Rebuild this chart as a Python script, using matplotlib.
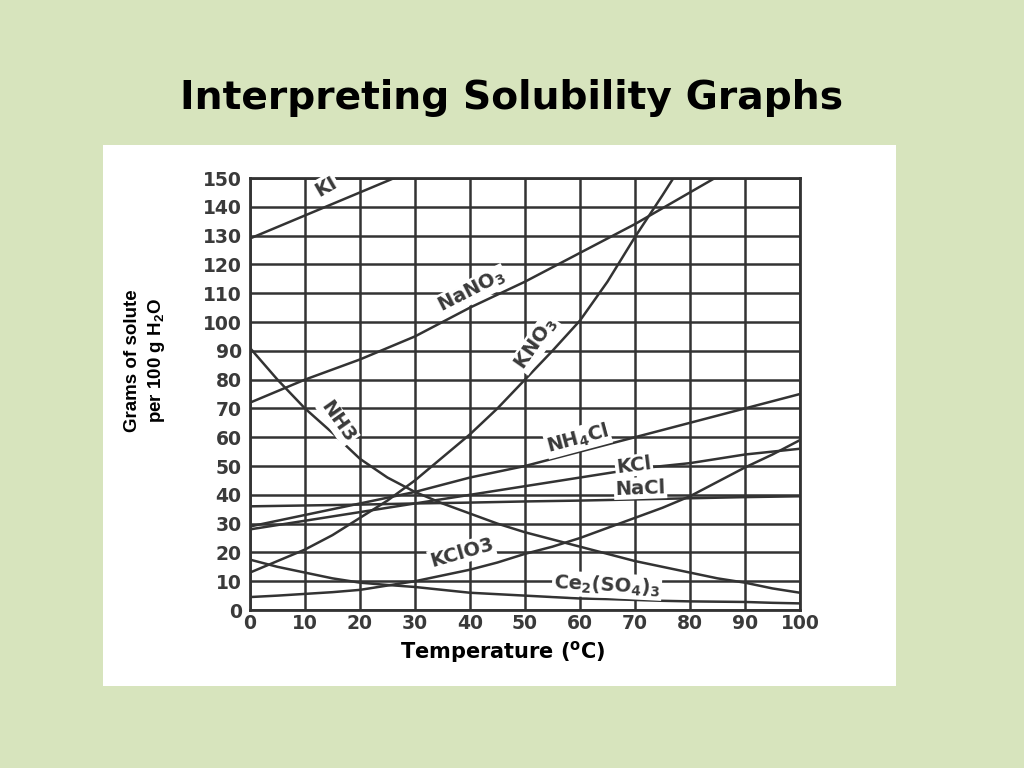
import matplotlib.pyplot as plt
from matplotlib.patches import Rectangle

plt.rcParams['mathtext.default'] = 'regular'

# temperatures (deg C) at which values were read
t10 = [0, 10, 20, 30, 40, 50, 60, 70, 80, 90, 100]
t5 = [0, 5, 10, 15, 20, 25, 30, 35, 40, 45, 50, 55, 60, 65, 70, 75, 80, 85, 90, 95, 100]

# grams of solute per 100 g water
ki = [129, 137, 145, 153]
nano3 = [72, 80, 87, 95, 105, 114, 124, 134, 145, 156]
kno3 = [13, 17, 21, 26, 32, 38, 45, 53, 61, 70, 80, 90, 100.5, 114, 129.5, 144, 159]
nh3 = [91, 80, 70, 61.5, 52.5, 46, 41, 37, 33.5, 30, 27, 24.5, 22, 19.5, 17, 15, 13,
       11, 9.5, 7.5, 6]
nh4cl = [29, 33, 37, 41, 46, 50, 55, 60, 65, 70, 75]
kcl = [28, 31, 34, 37, 40, 43, 46, 49, 51, 54, 56]
nacl = [36, 36.3, 36.6, 37, 37.3, 37.7, 38, 38.4, 38.8, 39.2, 39.5]
kclo3 = [4.5, 5, 5.6, 6.2, 7, 8.5, 10, 12, 14, 16.5, 19.5, 22, 25, 28.5, 32, 35.5, 39.5,
         44.5, 49.5, 54, 59]
ce2so43 = [17.5, 15, 13, 11, 9.5, 8.7, 8, 7, 6, 5.5, 5, 4.5, 4, 3.8, 3.5, 3.2, 3, 2.9,
           2.8, 2.5, 2.3]

yticks = list(range(0, 151, 10))
xticks = list(range(0, 101, 10))

bg = '#d7e4bd'
ink = '#333333'

fig = plt.figure(figsize=(10.24, 7.68), dpi=100, facecolor=bg)

# white slide panel
fig.patches.append(Rectangle((0.1006, 0.1068), 0.7744, 0.7044, transform=fig.transFigure,
                             facecolor='white', edgecolor='none', zorder=0))

fig.text(0.5, 0.872, 'Interpreting Solubility Graphs', ha='center', va='center',
         fontsize=28.3, fontweight='bold', color='black')

ax = fig.add_axes([0.2441, 0.2057, 0.5371, 0.5625])
ax.set_zorder(2)
ax.set_facecolor('white')
ax.set_xlim(0, 100)
ax.set_ylim(0, 150)
ax.set_xticks(xticks)
ax.set_yticks(yticks)
ax.grid(True, color=ink, linewidth=1.8)
ax.set_axisbelow(True)
for s in ax.spines.values():
    s.set_color(ink)
    s.set_linewidth(2)
ax.tick_params(axis='x', length=0, pad=3, labelsize=13.5, labelcolor='#3a3a3a')
ax.tick_params(axis='y', length=0, pad=6, labelsize=13.5, labelcolor='#3a3a3a')
for lab in ax.get_xticklabels() + ax.get_yticklabels():
    lab.set_fontweight('bold')

ax.plot(t10[:len(ki)], ki, color=ink, linewidth=1.8)
ax.plot(t10[:len(nano3)], nano3, color=ink, linewidth=1.8)
ax.plot(t5[:len(kno3)], kno3, color=ink, linewidth=1.8)
ax.plot(t5, nh3, color=ink, linewidth=1.8)
ax.plot(t10, nh4cl, color=ink, linewidth=1.8)
ax.plot(t10, kcl, color=ink, linewidth=1.8)
ax.plot(t10, nacl, color=ink, linewidth=1.8)
ax.plot(t5, kclo3, color=ink, linewidth=1.8)
ax.plot(t5, ce2so43, color=ink, linewidth=1.8)

box = dict(facecolor='white', edgecolor='none', pad=1)
labels = [
    ('KI', 13.8, 147.0, 30),
    ('NaNO$_3$', 40.4, 110.8, 27),
    ('KNO$_3$', 52.0, 92.5, 55),
    ('NH3', 16.0, 65.5, -55),
    ('NH$_4$Cl', 59.6, 59.4, 15),
    ('KCl', 69.8, 50.2, 7),
    ('NaCl', 71.0, 42.3, 2),
    ('KClO3', 38.5, 19.9, 16),
    ('Ce$_2$(SO$_4$)$_3$', 64.9, 8.5, -3),
]
for txt, x, y, rot in labels:
    ax.text(x, y, txt, rotation=rot, ha='center', va='center', fontsize=14,
            fontweight='bold', color='#3a3a3a', bbox=box, rotation_mode='anchor')

fig.text(0.491, 0.151, 'Temperature ($^{o}$C)', ha='center', va='center',
         fontsize=15, fontweight='bold', color='black')
fig.text(0.142, 0.531, 'Grams of solute\nper 100 g H$_2$O', rotation=90, ha='center',
         va='center', fontsize=13.5, fontweight='bold', color='black',
         family=['Liberation Sans', 'DejaVu Sans'], linespacing=1.35)

fig.savefig('out.png', dpi=100, facecolor=bg)
